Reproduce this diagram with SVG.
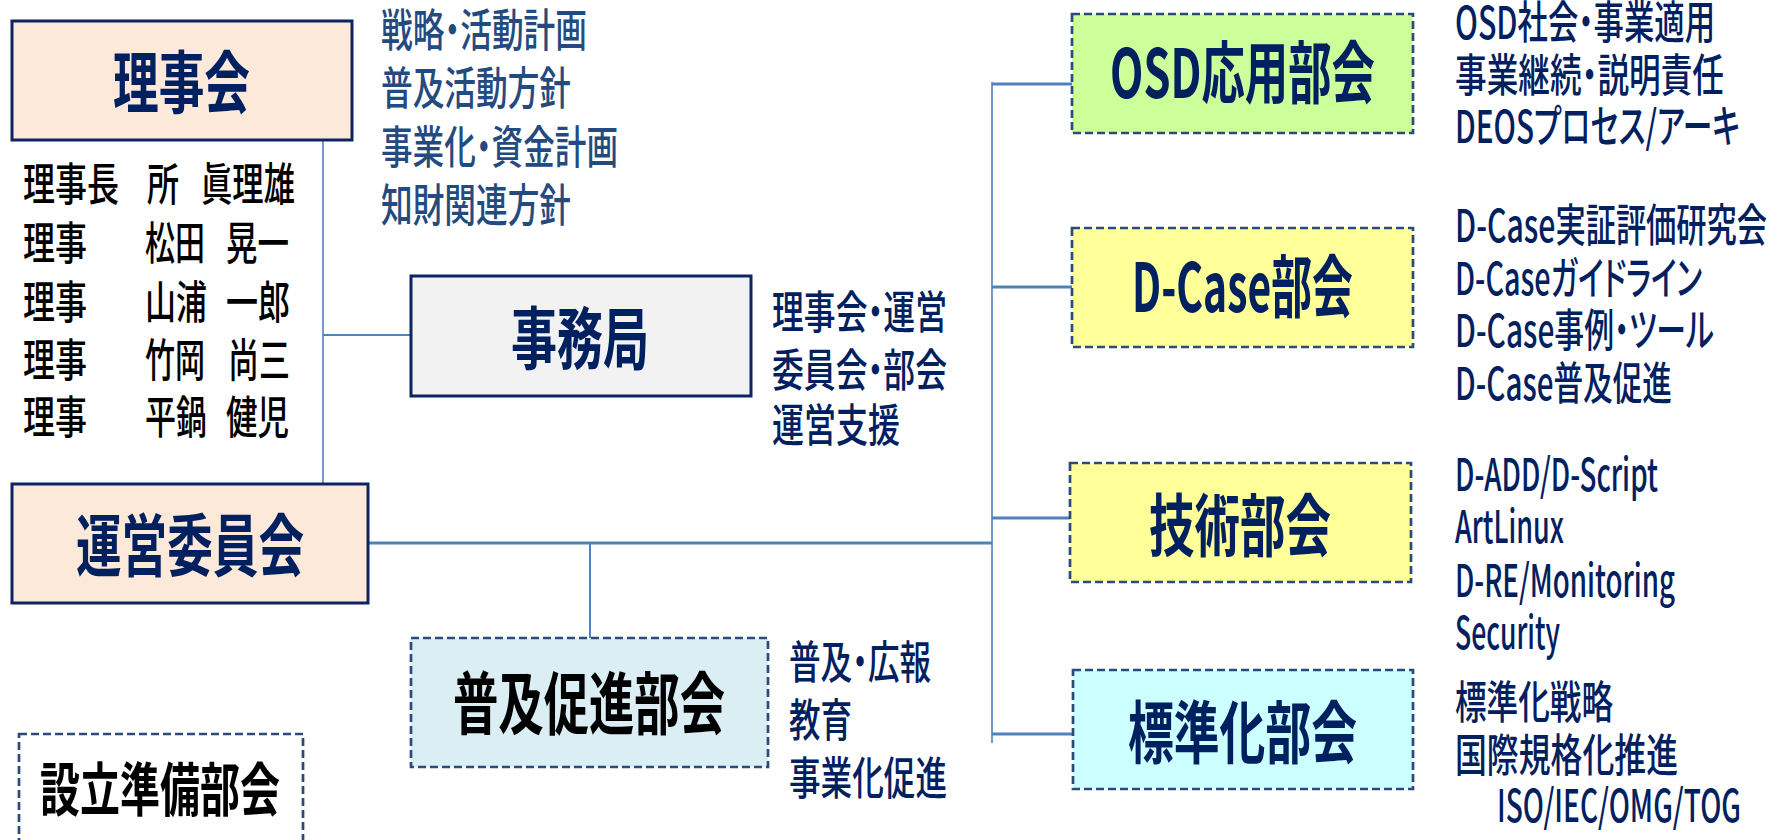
<svg xmlns="http://www.w3.org/2000/svg" width="1777" height="840" viewBox="0 0 1777 840">
<style>
text{font-family:"Noto Sans CJK JP","Noto Sans",sans-serif;font-feature-settings:"palt";}
.lbl{font-size:68px;font-weight:700;fill:#002060;}
.blk{fill:#000000;}
.nm{font-size:45px;font-weight:500;fill:#000000;}
.ls{font-size:45px;font-weight:500;fill:#002060;}
.ls2{font-size:45px;font-weight:500;fill:#234B80;}
.solid{stroke:#0C2461;stroke-width:3;}
.dash{stroke:#2A4B7C;stroke-width:2.7;stroke-dasharray:8 4;}
.c{stroke:#4F81BD;fill:none;}
</style>
<rect width="1777" height="840" fill="#ffffff"/>
<g id="connectors">
<line class="c" x1="323" y1="135" x2="323" y2="484" stroke-width="1.6"/>
<line class="c" x1="323" y1="335" x2="411" y2="335" stroke-width="2.2"/>
<line class="c" x1="368" y1="543" x2="992" y2="543" stroke-width="2.8"/>
<line class="c" x1="590" y1="543" x2="590" y2="638" stroke-width="2"/>
<line class="c" x1="992" y1="82" x2="992" y2="743" stroke-width="1.6"/>
<line class="c" x1="992" y1="84" x2="1072" y2="84" stroke-width="3"/>
<line class="c" x1="992" y1="287" x2="1072" y2="287" stroke-width="3"/>
<line class="c" x1="992" y1="518" x2="1070" y2="518" stroke-width="3"/>
<line class="c" x1="992" y1="734" x2="1073" y2="734" stroke-width="3"/>
</g>
<g id="rijikai">
<rect class="solid" x="12" y="21" width="340" height="119" fill="#FDE9D9"/>
<text class="lbl" x="113" y="108" textLength="137" lengthAdjust="spacingAndGlyphs">理事会</text>
</g>
<g id="members">
<text class="nm" x="23" y="201" textLength="96" lengthAdjust="spacingAndGlyphs">理事長</text>
<text class="nm" x="147" y="201" textLength="32" lengthAdjust="spacingAndGlyphs">所</text>
<text class="nm" x="201" y="201" textLength="94" lengthAdjust="spacingAndGlyphs">眞理雄</text>
<text class="nm" x="23" y="260" textLength="64" lengthAdjust="spacingAndGlyphs">理事</text>
<text class="nm" x="145" y="260" textLength="60" lengthAdjust="spacingAndGlyphs">松田</text>
<text class="nm" x="226" y="260" textLength="63" lengthAdjust="spacingAndGlyphs">晃一</text>
<text class="nm" x="23" y="319" textLength="64" lengthAdjust="spacingAndGlyphs">理事</text>
<text class="nm" x="145" y="319" textLength="62" lengthAdjust="spacingAndGlyphs">山浦</text>
<text class="nm" x="226" y="319" textLength="64" lengthAdjust="spacingAndGlyphs">一郎</text>
<text class="nm" x="23" y="377" textLength="64" lengthAdjust="spacingAndGlyphs">理事</text>
<text class="nm" x="145" y="377" textLength="60" lengthAdjust="spacingAndGlyphs">竹岡</text>
<text class="nm" x="228" y="377" textLength="62" lengthAdjust="spacingAndGlyphs">尚三</text>
<text class="nm" x="23" y="434" textLength="64" lengthAdjust="spacingAndGlyphs">理事</text>
<text class="nm" x="145" y="434" textLength="62" lengthAdjust="spacingAndGlyphs">平鍋</text>
<text class="nm" x="226" y="434" textLength="63" lengthAdjust="spacingAndGlyphs">健児</text>
</g>
<g id="rijikai-tasks">
<text class="ls2" x="381" y="47" textLength="206" lengthAdjust="spacingAndGlyphs">戦略・活動計画</text>
<text class="ls2" x="381" y="105" textLength="190" lengthAdjust="spacingAndGlyphs">普及活動方針</text>
<text class="ls2" x="381" y="164" textLength="237" lengthAdjust="spacingAndGlyphs">事業化・資金計画</text>
<text class="ls2" x="381" y="222" textLength="190" lengthAdjust="spacingAndGlyphs">知財関連方針</text>
</g>
<g id="jimukyoku">
<rect class="solid" x="411" y="276" width="340" height="120" fill="#F2F2F2"/>
<text class="lbl" x="511" y="364" textLength="138" lengthAdjust="spacingAndGlyphs">事務局</text>
</g>
<g id="jimukyoku-tasks">
<text class="ls" x="772" y="329" textLength="175" lengthAdjust="spacingAndGlyphs">理事会・運営</text>
<text class="ls" x="772" y="387" textLength="175" lengthAdjust="spacingAndGlyphs">委員会・部会</text>
<text class="ls" x="772" y="442" textLength="128" lengthAdjust="spacingAndGlyphs">運営支援</text>
</g>
<g id="uneiiinkai">
<rect class="solid" x="12" y="484" width="356" height="119" fill="#FDE9D9"/>
<text class="lbl" x="76" y="571" textLength="228" lengthAdjust="spacingAndGlyphs">運営委員会</text>
</g>
<g id="fukyu">
<rect class="dash" x="411" y="638" width="357" height="129" fill="#DAEEF3"/>
<text class="lbl blk" x="453" y="729" textLength="272" lengthAdjust="spacingAndGlyphs">普及促進部会</text>
</g>
<g id="fukyu-tasks">
<text class="ls" x="789" y="679" textLength="142" lengthAdjust="spacingAndGlyphs">普及・広報</text>
<text class="ls" x="789" y="737" textLength="63" lengthAdjust="spacingAndGlyphs">教育</text>
<text class="ls" x="789" y="795" textLength="158" lengthAdjust="spacingAndGlyphs">事業化促進</text>
</g>
<g id="setsuritsu">
<rect class="dash" x="19" y="734" width="284" height="150" fill="none"/>
<text class="blk" x="40" y="811" font-size="58" font-weight="700" textLength="240" lengthAdjust="spacingAndGlyphs">設立準備部会</text>
</g>
<g id="osd">
<rect class="dash" x="1072" y="14" width="341" height="119" fill="#CCFF99"/>
<text class="lbl" x="1110" y="98" textLength="265" lengthAdjust="spacingAndGlyphs">OSD応用部会</text>
</g>
<g id="osd-tasks">
<text class="ls" x="1455" y="39" textLength="260" lengthAdjust="spacingAndGlyphs">OSD社会・事業適用</text>
<text class="ls" x="1455" y="92" textLength="269" lengthAdjust="spacingAndGlyphs">事業継続・説明責任</text>
<text class="ls" x="1455" y="143" textLength="285" lengthAdjust="spacingAndGlyphs">DEOSプロセス/アーキ</text>
</g>
<g id="dcase">
<rect class="dash" x="1072" y="228" width="341" height="119" fill="#FFFF99"/>
<text class="lbl" x="1132" y="312" textLength="221" lengthAdjust="spacingAndGlyphs">D-Case部会</text>
</g>
<g id="dcase-tasks">
<text class="ls" x="1455" y="242" textLength="312" lengthAdjust="spacingAndGlyphs">D-Case実証評価研究会</text>
<text class="ls" x="1455" y="295" textLength="247" lengthAdjust="spacingAndGlyphs">D-Caseガイドライン</text>
<text class="ls" x="1455" y="347" textLength="259" lengthAdjust="spacingAndGlyphs">D-Case事例・ツール</text>
<text class="ls" x="1455" y="400" textLength="217" lengthAdjust="spacingAndGlyphs">D-Case普及促進</text>
</g>
<g id="gijutsu">
<rect class="dash" x="1070" y="463" width="341" height="119" fill="#FFFF99"/>
<text class="lbl" x="1149" y="551" textLength="182" lengthAdjust="spacingAndGlyphs">技術部会</text>
</g>
<g id="gijutsu-tasks">
<text class="ls" x="1455" y="491" textLength="203" lengthAdjust="spacingAndGlyphs">D-ADD/D-Script</text>
<text class="ls" x="1455" y="543" textLength="109" lengthAdjust="spacingAndGlyphs">ArtLinux</text>
<text class="ls" x="1455" y="597" textLength="220" lengthAdjust="spacingAndGlyphs">D-RE/Monitoring</text>
<text class="ls" x="1455" y="649" textLength="105" lengthAdjust="spacingAndGlyphs">Security</text>
</g>
<g id="hyojunka">
<rect class="dash" x="1073" y="670" width="340" height="119" fill="#CCFFFF"/>
<text class="lbl" x="1128" y="758" textLength="229" lengthAdjust="spacingAndGlyphs">標準化部会</text>
</g>
<g id="hyojunka-tasks">
<text class="ls" x="1455" y="719" textLength="158" lengthAdjust="spacingAndGlyphs">標準化戦略</text>
<text class="ls" x="1455" y="772" textLength="223" lengthAdjust="spacingAndGlyphs">国際規格化推進</text>
<text class="ls" x="1497" y="822" textLength="244" lengthAdjust="spacingAndGlyphs">ISO/IEC/OMG/TOG</text>
</g>
</svg>
